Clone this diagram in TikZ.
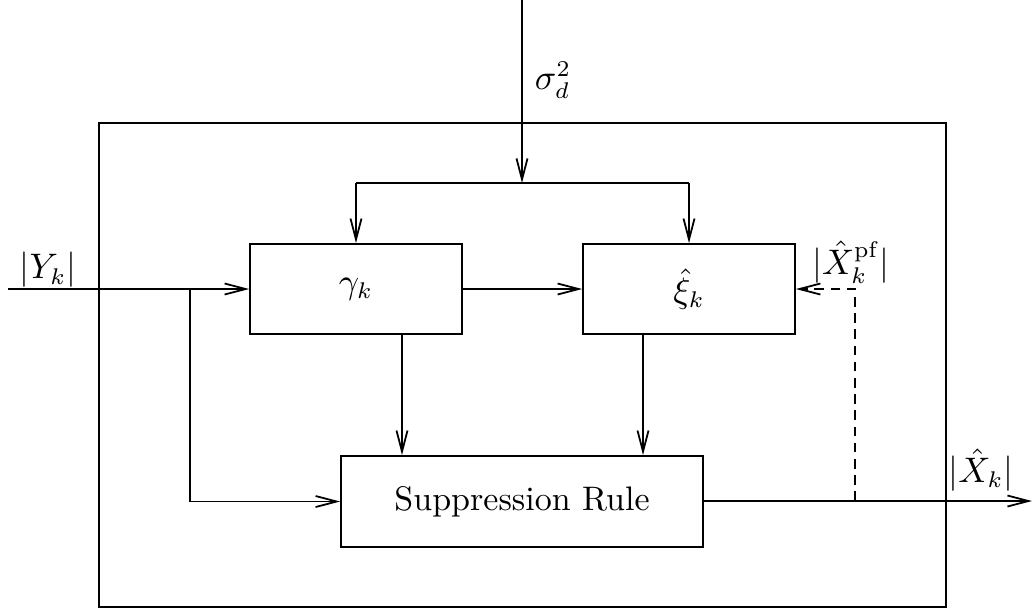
\documentclass[tikz,border=0pt]{standalone}
\usepackage{tikz}
\usetikzlibrary{arrows.meta}
\usepackage{amsmath, amssymb}

\begin{document}
\begin{tikzpicture}[x=0.3087pt, y=-0.3087pt, line width=0.55pt, font=\fontsize{10.5}{12.6}\selectfont]
        % ================= styles =================
        \tikzset{
            % outer frame of the estimator
            frame/.style={draw=black, minimum width=261.5pt, minimum height=149.4pt, inner sep=0pt},
            % small processing blocks
            blk/.style={draw=black, minimum width=65.4pt, minimum height=27.8pt, inner sep=0pt},
            % gain block
            rule/.style={draw=black, minimum width=111.7pt, minimum height=28.1pt, inner sep=0pt},
            % signal lines with open barbs
            sig/.style={-{Straight Barb[length=6.5pt, width=3.4pt]}},
            % side feedback from the post-filter
            fb/.style={dash pattern=on 3pt off 2pt},
            lbl/.style={inner sep=0pt}
        }
        \useasboundingbox (0,0) rectangle (1034,613);

        % ================= 1. frame and blocks =================
        \node[frame] (sys) at (522.5,365) {};
        \node[blk] (gam) at (356,289) {$\gamma_k$};
        \node[blk] (xi) at (689,289) {$\hat{\xi}_k$};
        \node[rule] (sup) at (522,501.5) {Suppression Rule};

        % ================= 2. helper points =================
        \coordinate (top) at (522,0);
        \coordinate (split) at (522,183);
        \coordinate (yin) at (8,289);
        \coordinate (br) at (190,289);
        \coordinate (gd) at (402,0);
        \coordinate (xd) at (643,0);
        \coordinate (tap) at (855,501);
        \coordinate (out) at (1032,501);

        % ================= 3. labels =================
        \node[lbl] (sig2) at (553,80) {$\sigma_d^2$};
        \node[lbl] (ylbl) at (48,270) {$|Y_k|$};
        \node[lbl] (pflbl) at (851,262) {$|\hat{X}_k^{\mathrm{pf}}|$};
        \node[lbl] (xlbl) at (981,470) {$|\hat{X}_k|$};

        % ================= 4. connections =================
        % noise variance feeds both estimators
        \draw[sig] (top) -- (split);
        \draw (gam.north |- split) -- (xi.north |- split);
        \draw[sig] (gam.north |- split) -- (gam.north);
        \draw[sig] (xi.north |- split) -- (xi.north);

        % noisy magnitude in
        \draw[sig] (yin) -- (gam.west);
        \draw[sig] (br) |- (sup.west);
        \draw[sig] (gam) -- (xi);

        % estimators into the gain rule
        \draw[sig] (gam.south -| gd) -- (sup.north -| gd);
        \draw[sig] (xi.south -| xd) -- (sup.north -| xd);

        % output and dashed feedback
        \draw[sig] (sup.east |- out) -- (out);
        \draw[sig, fb] (tap) |- (xi.east);

    \end{tikzpicture}
\end{document}
